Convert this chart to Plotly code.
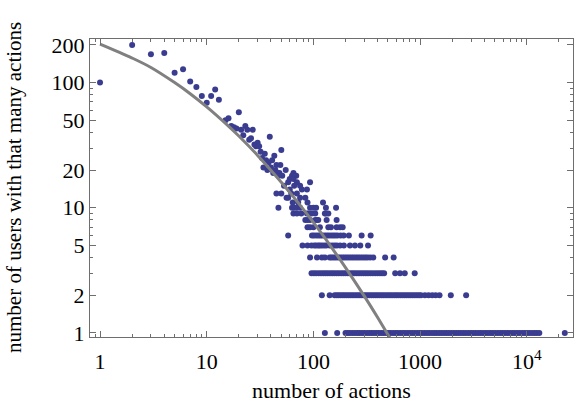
import plotly.graph_objects as go

# ---- data ----
# individual points (number of actions, number of users) for the upper part
top_x = [1, 2, 3, 4, 5, 6, 7, 8, 9, 10, 11, 12, 13, 15, 16, 17, 18, 19, 20, 21, 22, 23, 24,
         25, 26, 27, 28, 29, 30, 31, 32, 33, 34, 35, 36, 37, 38, 39, 40, 41, 42, 43, 44, 45,
         46, 49, 50, 55]
top_y = [100, 200, 168, 172, 120, 128, 102, 92, 78, 69, 78, 88, 73, 50, 52, 45, 44, 43, 58, 42, 38, 45, 42,
         35, 36, 42, 32, 31, 33, 31, 28, 25, 21, 27, 24, 20, 23, 37, 21, 24, 19, 26, 20, 22,
         19, 22, 29, 20]

# rows: number of users -> list of "number of actions" values
row_19 = [45, 48, 65]
row_18 = [47, 51, 63, 69]
row_17 = [60, 65]
row_16 = [58, 70, 93]
row_15 = [53, 66, 75]
row_14 = [60, 78, 87]
row_13 = [45, 50, 62, 70]
row_12 = [56, 58, 75, 84]
row_11 = [64, 72, 88, 123]
row_10 = [47, 63, 66, 70, 75, 93, 100, 106, 131, 163]
row_9 = [65, 70, 77, 87, 90, 96, 104, 128, 131, 138]
row_8 = [84, 88, 93, 104, 108, 111, 133, 165]
row_7 = [88, 93, 100, 115, 138, 146, 165, 178, 188]
row_6 = [58, 97, 101, 106, 111, 116, 121, 127, 133, 139, 146, 153, 160, 168, 180, 192, 215, 283, 344]
row_5 = [79, 88, 96, 102, 106, 111, 115, 120, 126, 132, 142, 150, 158, 166, 178, 193, 220, 245, 275, 325]
row_4 = [93, 108, 120, 128, 142, 148, 155, 162, 170, 178, 187, 196, 206, 216, 227, 238, 250, 262,
         275, 290, 305, 320, 340, 364, 470, 565]
row_3 = [96, 101, 106, 112, 118, 124, 130, 136, 143, 150, 157, 165, 173, 182, 191, 200, 210, 221,
         232, 243, 255, 268, 281, 295, 310, 325, 342, 360, 380, 400, 420, 440, 460, 584, 648, 718, 890]
row_2 = [120, 142, 158, 165, 172, 180, 188, 196, 205, 214, 224, 234, 245, 256, 268, 280, 293, 306,
         320, 335, 350, 366, 383, 400, 418, 437, 457, 478, 500, 523, 547, 572, 598, 625, 654, 684,
         715, 748, 782, 818, 855, 894, 935, 978, 1020, 1110, 1200, 1300, 1400, 1520, 1940, 2700]
row_1 = [128, 167, 200, 210, 220, 232, 245, 258, 270, 285, 300, 318, 335, 352, 370, 390, 410, 432,
         455, 480, 505, 530, 560, 590, 620, 655, 690, 725, 765, 805, 850, 895, 940, 990, 1040, 1100,
         1160, 1220, 1290, 1360, 1430, 1510, 1590, 1680, 1770, 1860, 1960, 2070, 2180, 2300, 2420,
         2550, 2690, 2840, 2990, 3150, 3320, 3500, 3690, 3890, 4100, 4320, 4560, 4800, 5060, 5340,
         5630, 5930, 6250, 6590, 6950, 7330, 7720, 8140, 8580, 9050, 9540, 10050, 10600, 11200,
         11800, 12400, 13100, 22700]

rows = {19: row_19, 18: row_18, 17: row_17, 16: row_16, 15: row_15, 14: row_14, 13: row_13,
        12: row_12, 11: row_11, 10: row_10, 9: row_9, 8: row_8, 7: row_7, 6: row_6, 5: row_5,
        4: row_4, 3: row_3, 2: row_2, 1: row_1}

# fitted curve
curve_x = [1, 2, 3, 5, 7, 10, 15, 20, 30, 50, 70, 100, 150, 200, 300, 400, 500, 600]
curve_y = [203, 157, 132, 100, 81.5, 64, 47.2, 37.4, 26.2, 16.0, 11.3, 7.64, 4.75, 3.33, 1.97,
           1.33, 0.97, 0.75]

x_tickvals = [1, 10, 100, 1000, 10000]
x_ticktext = ["1", "10", "100", "1000", "10<sup>4</sup>"]
y_tickvals = [1, 2, 5, 10, 20, 50, 100, 200]
y_ticktext = ["1", "2", "5", "10", "20", "50", "100", "200"]

# ---- build ----
xs = list(top_x)
ys = list(top_y)
for yv, xl in rows.items():
    xs += xl
    ys += [yv] * len(xl)

x_minor = [m * 10 ** e for e in range(-1, 5) for m in range(2, 10)]
y_minor = [m * 10 ** e for e in range(-1, 3) for m in (3, 4, 6, 7, 8, 9)]

FONT = "Liberation Serif"

fig = go.Figure()
fig.add_trace(go.Scatter(x=xs, y=ys, mode="markers",
                         marker=dict(size=6, color="#3a3c90", line=dict(width=0)),
                         hoverinfo="skip"))
fig.add_trace(go.Scatter(x=curve_x, y=curve_y, mode="lines",
                         line=dict(color="#808080", width=3, shape="spline"),
                         hoverinfo="skip"))

axis_common = dict(type="log", showgrid=False, zeroline=False, showline=True,
                   linecolor="#6e6e6e", linewidth=1, ticks="inside", tickcolor="#6e6e6e",
                   ticklen=6, mirror="allticks",
                   tickfont=dict(family=FONT, size=22, color="black"))

fig.update_xaxes(**axis_common, range=[-0.094, 4.433], tickmode="array",
                 tickvals=x_tickvals, ticktext=x_ticktext, ticklabelstandoff=5,
                 minor=dict(tickmode="array", tickvals=x_minor, ticks="inside", ticklen=3,
                            tickcolor="#6e6e6e", showgrid=False),
                 title=dict(text="number of actions", standoff=9,
                            font=dict(family=FONT, size=22, color="black")))
fig.update_yaxes(**axis_common, range=[-0.032, 2.348], tickmode="array",
                 tickvals=y_tickvals, ticktext=y_ticktext,
                 minor=dict(tickmode="array", tickvals=y_minor, ticks="inside", ticklen=3,
                            tickcolor="#6e6e6e", showgrid=False))

fig.add_annotation(text="number of users with that many actions", xref="paper", yref="paper",
                   x=-0.0, xshift=-76, y=0.5, textangle=-90, showarrow=False,
                   xanchor="center", yanchor="middle",
                   font=dict(family=FONT, size=21, color="black"))

fig.update_layout(width=579, height=413, margin=dict(l=90, r=6, t=39, b=76, autoexpand=False),
                  plot_bgcolor="white", paper_bgcolor="white", showlegend=False,
                  font=dict(family=FONT, size=21, color="black"))

# remove the default page margin so the figure sits at the window's corner
fig.write_html("out.html", config={"displayModeBar": False},
               post_script="document.body.style.margin='0';")
